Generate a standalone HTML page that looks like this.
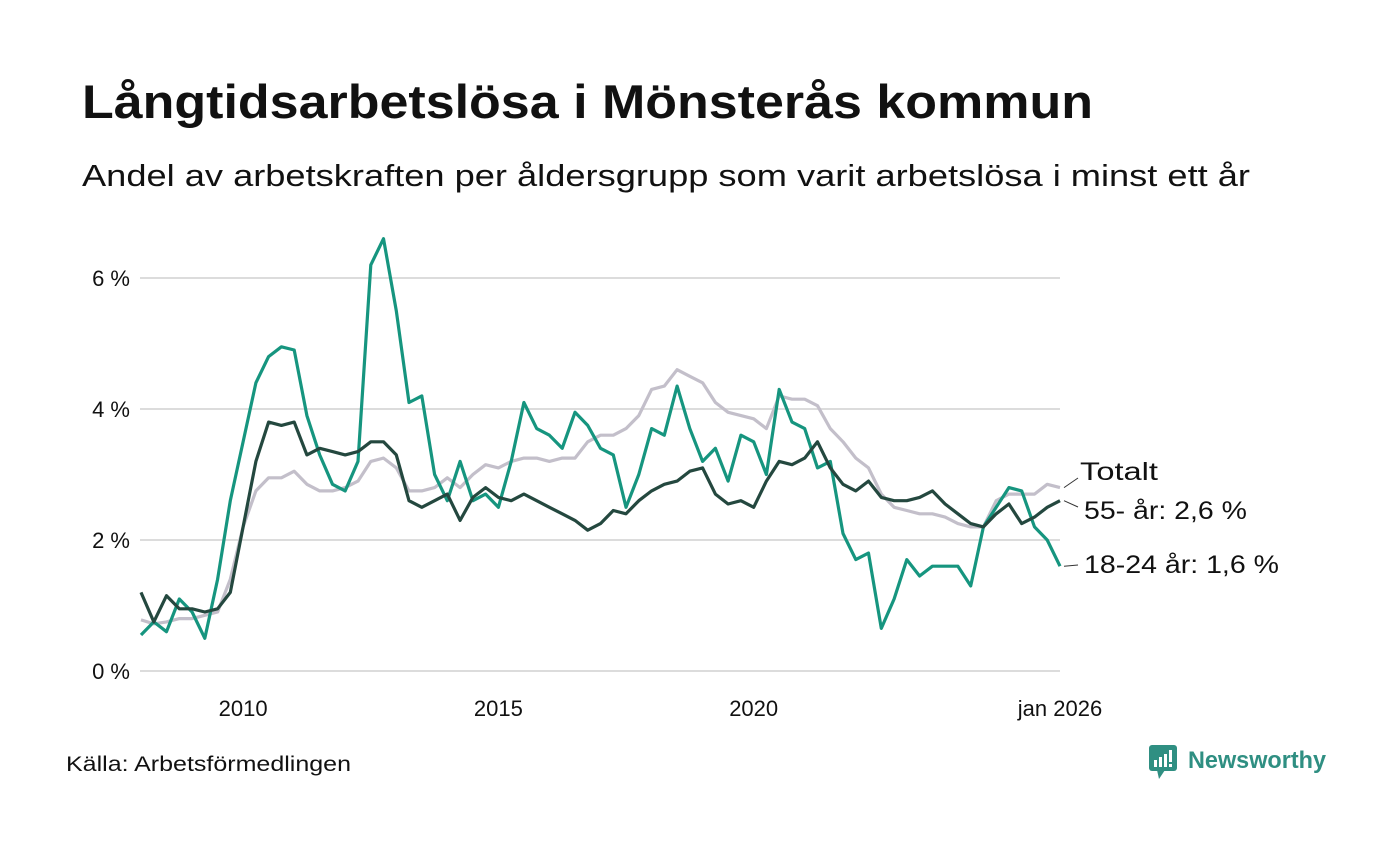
<!DOCTYPE html>
<html><head><meta charset="utf-8">
<style>
body{margin:0;background:#fff;width:1400px;height:840px;overflow:hidden;font-family:"Liberation Sans","DejaVu Sans",sans-serif;}
svg text{font-family:"Liberation Sans","DejaVu Sans",sans-serif;}
</style></head>
<body>
<svg id="chart" width="1400" height="840">
  <text x="82" y="118" font-size="47" font-weight="bold" fill="#111" textLength="1011" lengthAdjust="spacingAndGlyphs">Långtidsarbetslösa i Mönsterås kommun</text>
  <text x="82" y="186" font-size="31" fill="#111" textLength="1168" lengthAdjust="spacingAndGlyphs">Andel av arbetskraften per åldersgrupp som varit arbetslösa i minst ett år</text>
  <g id="grid"></g>
  <g id="series"></g>
  <g id="labels"></g>
  <text x="66" y="771" font-size="21" fill="#111" textLength="285" lengthAdjust="spacingAndGlyphs">Källa: Arbetsförmedlingen</text>
  <g>
    <rect x="1149" y="745" width="28" height="26" rx="3" fill="#2f8f82"/>
    <polygon points="1157,770 1165,770 1159,779" fill="#2f8f82"/>
    <rect x="1154" y="760" width="3" height="7" fill="#fff"/>
    <rect x="1159" y="757" width="3" height="10" fill="#fff"/>
    <rect x="1164" y="754" width="3" height="13" fill="#fff"/>
    <rect x="1169" y="750" width="3" height="12" fill="#fff"/>
    <rect x="1169" y="764" width="3" height="3" fill="#fff"/>
    <text x="1188" y="768" font-size="24" font-weight="bold" fill="#2f8f82" textLength="138" lengthAdjust="spacingAndGlyphs">Newsworthy</text>
  </g>
</svg>
<script>
const quarters = 73; // quarterly points, Jan 2008 .. Jan 2026
const yTicks = [0, 2, 4, 6];
const yTickLabels = ["0 %", "2 %", "4 %", "6 %"];
const xTickYears = [2010, 2015, 2020, 2026];
const xTickLabels = ["2010", "2015", "2020", "jan 2026"];
const totalt = [0.78,0.72,0.75,0.8,0.8,0.85,0.9,1.4,2.2,2.75,2.95,2.95,3.05,2.85,2.75,2.75,2.8,2.9,3.2,3.25,3.1,2.75,2.75,2.8,2.95,2.8,3.0,3.15,3.1,3.2,3.25,3.25,3.2,3.25,3.25,3.5,3.6,3.6,3.7,3.9,4.3,4.35,4.6,4.5,4.4,4.1,3.95,3.9,3.85,3.7,4.2,4.15,4.15,4.05,3.7,3.5,3.25,3.1,2.7,2.5,2.45,2.4,2.4,2.35,2.25,2.2,2.2,2.6,2.7,2.7,2.7,2.85,2.8];
const age55 = [1.2,0.75,1.15,0.95,0.95,0.9,0.95,1.2,2.2,3.2,3.8,3.75,3.8,3.3,3.4,3.35,3.3,3.35,3.5,3.5,3.3,2.6,2.5,2.6,2.7,2.3,2.65,2.8,2.65,2.6,2.7,2.6,2.5,2.4,2.3,2.15,2.25,2.45,2.4,2.6,2.75,2.85,2.9,3.05,3.1,2.7,2.55,2.6,2.5,2.9,3.2,3.15,3.25,3.5,3.1,2.85,2.75,2.9,2.65,2.6,2.6,2.65,2.75,2.55,2.4,2.25,2.2,2.4,2.55,2.25,2.35,2.5,2.6];
const age1824 = [0.55,0.75,0.6,1.1,0.9,0.5,1.4,2.6,3.5,4.4,4.8,4.95,4.9,3.9,3.3,2.85,2.75,3.2,6.2,6.6,5.5,4.1,4.2,3.0,2.6,3.2,2.6,2.7,2.5,3.2,4.1,3.7,3.6,3.4,3.95,3.75,3.4,3.3,2.5,3.0,3.7,3.6,4.35,3.7,3.2,3.4,2.9,3.6,3.5,3.0,4.3,3.8,3.7,3.1,3.2,2.1,1.7,1.8,0.65,1.1,1.7,1.45,1.6,1.6,1.6,1.3,2.2,2.5,2.8,2.75,2.2,2.0,1.6];
const seriesNames = ["Totalt", "55- år: 2,6 %", "18-24 år: 1,6 %"];

const NS = "http://www.w3.org/2000/svg";
const x0 = 141, x1 = 1060, y0 = 671, yPer = 65.5;
function xIdx(i){ return x0 + i * (x1 - x0) / (quarters - 1); }
function xYear(y){ return x0 + (y - 2008) * (x1 - x0) / 18; }
function yVal(v){ return y0 - v * yPer; }

const grid = document.getElementById('grid');
yTicks.forEach((t, k) => {
  const l = document.createElementNS(NS, 'line');
  l.setAttribute('x1', 140); l.setAttribute('x2', 1060);
  l.setAttribute('y1', yVal(t)); l.setAttribute('y2', yVal(t));
  l.setAttribute('stroke', '#dcdcdc'); l.setAttribute('stroke-width', 2);
  
  
  grid.appendChild(l);
  const tx = document.createElementNS(NS, 'text');
  tx.setAttribute('x', 130); tx.setAttribute('y', yVal(t) + 8);
  tx.setAttribute('text-anchor', 'end'); tx.setAttribute('font-size', 22); tx.setAttribute('fill', '#111');
  tx.textContent = yTickLabels[k];
  
  
  grid.appendChild(tx);
});
xTickYears.forEach((yr, k) => {
  const tx = document.createElementNS(NS, 'text');
  tx.setAttribute('x', xYear(yr)); tx.setAttribute('y', 716);
  tx.setAttribute('text-anchor', 'middle'); tx.setAttribute('font-size', 22); tx.setAttribute('fill', '#111');
  tx.textContent = xTickLabels[k];
  
  
  grid.appendChild(tx);
});

const sg = document.getElementById('series');
function drawLine(data, color, name){
  const p = document.createElementNS(NS, 'path');
  p.setAttribute('d', data.map((v, i) => (i ? 'L' : 'M') + xIdx(i).toFixed(1) + ',' + yVal(v).toFixed(1)).join(''));
  p.setAttribute('fill', 'none'); p.setAttribute('stroke', color); p.setAttribute('stroke-width', 3.2);
  p.setAttribute('stroke-linejoin', 'round');
  
  
  sg.appendChild(p);
}
drawLine(totalt, '#c3bfca', 'line-totalt');
drawLine(age1824, '#16957f', 'line-18-24');
drawLine(age55, '#24483f', 'line-55-plus');

const lg = document.getElementById('labels');
const ends = [totalt[quarters-1], age55[quarters-1], age1824[quarters-1]];
const labelY = [471, 510, 564];
const labelX = [1080, 1084, 1084];
const labelW = [78, 163, 195];
const connEndY = [478, 507, 565];
ends.forEach((v, k) => {
  const l = document.createElementNS(NS, 'line');
  l.setAttribute('x1', 1064); l.setAttribute('y1', yVal(v));
  l.setAttribute('x2', 1078); l.setAttribute('y2', connEndY[k]);
  l.setAttribute('stroke', '#333'); l.setAttribute('stroke-width', 1);
  
  
  lg.appendChild(l);
  const tx = document.createElementNS(NS, 'text');
  tx.setAttribute('x', labelX[k]); tx.setAttribute('y', labelY[k] + 9);
  tx.setAttribute('font-size', 25); tx.setAttribute('fill', '#111');
  tx.setAttribute('textLength', labelW[k]); tx.setAttribute('lengthAdjust', 'spacingAndGlyphs');
  tx.textContent = seriesNames[k];
  
  
  lg.appendChild(tx);
});
</script>
</body></html>
